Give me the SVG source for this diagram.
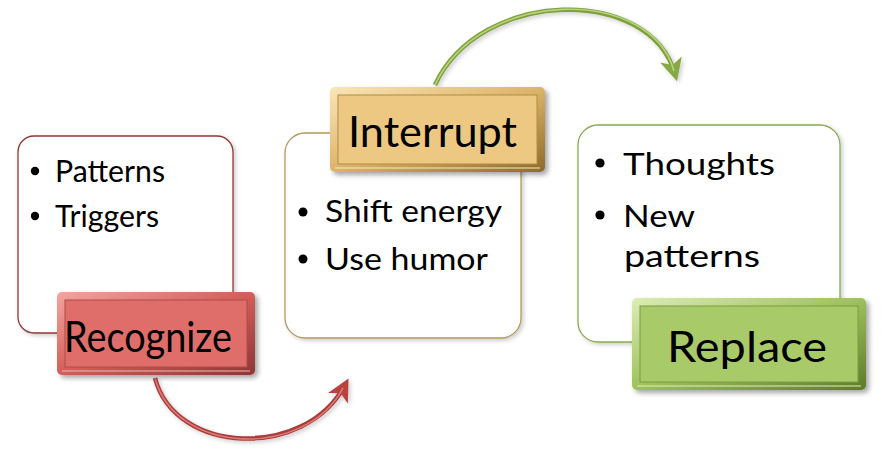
<svg xmlns="http://www.w3.org/2000/svg" width="888" height="454" viewBox="0 0 888 454">
<defs>
<style>
.bt{font-family:Lato,"Open Sans","Liberation Sans",sans-serif;font-size:31px;fill:#000}
.hd{font-family:Lato,"Open Sans","Liberation Sans",sans-serif;font-size:42px;fill:#000}
.box{fill:#fff;stroke-width:1.3}
</style>
<filter id="sh" x="-10%" y="-10%" width="130%" height="130%">
<feDropShadow dx="3" dy="3" stdDeviation="2.5" flood-color="#000" flood-opacity="0.35"/>
</filter>
<filter id="sh2" x="-10%" y="-10%" width="130%" height="130%">
<feDropShadow dx="2" dy="2" stdDeviation="2" flood-color="#000" flood-opacity="0.2"/>
</filter>
<linearGradient id="gr" x1="0" y1="0" x2="1" y2="1">
<stop offset="0" stop-color="#f2a6a2"/><stop offset="0.5" stop-color="#d25e5a"/><stop offset="1" stop-color="#8e3634"/>
</linearGradient>
<linearGradient id="gg" x1="0" y1="0" x2="1" y2="1">
<stop offset="0" stop-color="#fae6b8"/><stop offset="0.5" stop-color="#dcb468"/><stop offset="1" stop-color="#8c6a2a"/>
</linearGradient>
<linearGradient id="gv" x1="0" y1="0" x2="1" y2="1">
<stop offset="0" stop-color="#dcedb4"/><stop offset="0.5" stop-color="#9ec05c"/><stop offset="1" stop-color="#5e7a2c"/>
</linearGradient>
<marker id="ar" viewBox="0 0 12 12" refX="8" refY="6" markerWidth="5" markerHeight="5" orient="auto" markerUnits="strokeWidth">
<path d="M0,0 L12,6 L0,12 L3,6 z" fill="#b9423f"/>
</marker>
<marker id="ag" viewBox="0 0 12 12" refX="8" refY="6" markerWidth="5" markerHeight="5" orient="auto" markerUnits="strokeWidth">
<path d="M0,0 L12,6 L0,12 L3,6 z" fill="#86a845"/>
</marker>
</defs>

<g id="connectors">
<g id="arrow-recognize-interrupt" filter="url(#sh2)">
<path d="M155,378 C175,455 305,460 345,385" fill="none" stroke="#a83c3a" stroke-width="4.5" marker-end="url(#ar)"/>
<path d="M155,378 C175,455 305,460 343,388" fill="none" stroke="#e07a76" stroke-width="1.6"/>
</g>
<g id="arrow-interrupt-replace" filter="url(#sh2)">
<path d="M435,85 C480,-12 650,-15 675,74" fill="none" stroke="#7f9f3e" stroke-width="4.5" marker-end="url(#ag)"/>
<path d="M435,85 C480,-12 650,-15 674,71" fill="none" stroke="#b5d47a" stroke-width="1.6"/>
</g>
</g>

<g id="recognize-list">
<rect class="box" x="18" y="136" width="215" height="197" rx="16" stroke="#943634" filter="url(#sh2)"/>
<circle cx="35" cy="171" r="4.2"/>
<text class="bt" x="55" y="182" textLength="110" lengthAdjust="spacingAndGlyphs">Patterns</text>
<circle cx="35" cy="216" r="4.2"/>
<text class="bt" x="55" y="227" textLength="104" lengthAdjust="spacingAndGlyphs">Triggers</text>
</g>

<g id="interrupt-list">
<rect class="box" x="285" y="133" width="236" height="205" rx="20" stroke="#b39a5c" filter="url(#sh2)"/>
<circle cx="303" cy="212" r="4.5"/>
<text class="bt" x="325" y="222" textLength="177" lengthAdjust="spacingAndGlyphs">Shift energy</text>
<circle cx="303" cy="259" r="4.5"/>
<text class="bt" x="325" y="270" textLength="163" lengthAdjust="spacingAndGlyphs">Use humor</text>
</g>

<g id="replace-list">
<rect class="box" x="578" y="125" width="262" height="217" rx="20" stroke="#8caa52" filter="url(#sh2)"/>
<circle cx="600" cy="163" r="4.6"/>
<text class="bt" x="623" y="175" textLength="152" lengthAdjust="spacingAndGlyphs">Thoughts</text>
<circle cx="600" cy="215" r="4.6"/>
<text class="bt" x="623" y="227" textLength="72" lengthAdjust="spacingAndGlyphs">New</text>
<text class="bt" x="624" y="267" textLength="136" lengthAdjust="spacingAndGlyphs">patterns</text>
</g>

<g id="recognize">
<rect x="57" y="292" width="198" height="83" rx="5" fill="url(#gr)" filter="url(#sh)"/>
<rect x="65" y="300" width="182" height="67" fill="#df6e6b" stroke="#b04a47" stroke-width="1"/>
<line x1="62" y1="371" x2="250" y2="371" stroke="#f6b8b4" stroke-width="1.2"/>
<text class="hd" x="64" y="352" textLength="168" lengthAdjust="spacingAndGlyphs">Recognize</text>
</g>

<g id="interrupt">
<rect x="330" y="87" width="215" height="85" rx="5" fill="url(#gg)" filter="url(#sh)"/>
<rect x="338" y="95" width="199" height="69" fill="#ecc882" stroke="#b08c44" stroke-width="1"/>
<line x1="335" y1="168" x2="540" y2="168" stroke="#fbeac4" stroke-width="1.2"/>
<text class="hd" x="348" y="147" textLength="169" lengthAdjust="spacingAndGlyphs">Interrupt</text>
</g>

<g id="replace">
<rect x="632" y="298" width="234" height="92" rx="5" fill="url(#gv)" filter="url(#sh)"/>
<rect x="640" y="306" width="218" height="76" fill="#a9ca69" stroke="#7c9c40" stroke-width="1"/>
<line x1="637" y1="386" x2="861" y2="386" stroke="#dff0bc" stroke-width="1.2"/>
<text class="hd" x="667" y="362" textLength="160" lengthAdjust="spacingAndGlyphs">Replace</text>
</g>
</svg>
